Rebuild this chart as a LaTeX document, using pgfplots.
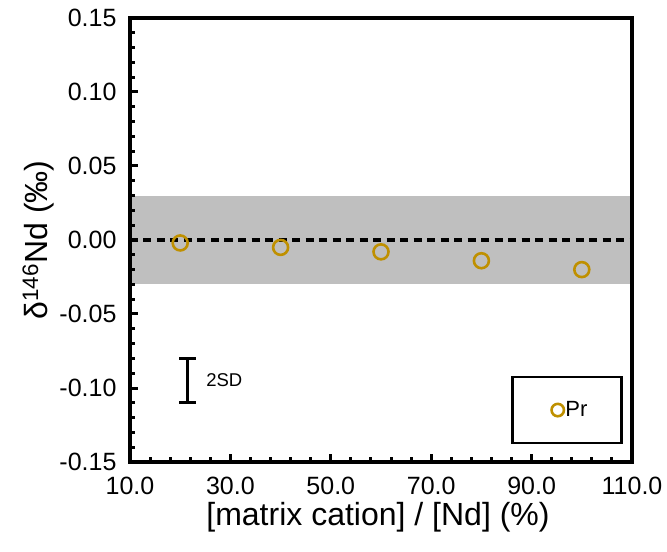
\documentclass[border=0pt]{standalone}
\usepackage{pgfplots}
\pgfplotsset{compat=1.18}
\usepackage{fontspec}
\setmainfont{Liberation Sans}

\definecolor{prgold}{RGB}{191,144,0}
\definecolor{bandgray}{RGB}{191,191,191}

\begin{document}
\begin{tikzpicture}
\begin{axis}[
  name=ax,
  scale only axis,
  width=502bp, height=444bp,
  xmin=10, xmax=110,
  ymin=-0.15, ymax=0.15,
  axis line style={line width=3.2bp},
  axis on top,
  xtick={10,30,50,70,90,110},
  ytick={-0.15,-0.10,-0.05,0,0.05,0.10,0.15},
  minor x tick num=4,
  minor y tick num=4,
  xtick pos=bottom, ytick pos=left,
  tick align=inside,
  major tick length=8bp, minor tick length=5.5bp,
  major tick style={black, line width=3bp},
  minor tick style={black, line width=3bp},
  /pgf/number format/assume math mode=true,
  xticklabel style={/pgf/number format/.cd, fixed, fixed zerofill, precision=1, /tikz/.cd,
    font=\fontsize{25bp}{30bp}\selectfont, yshift=-12bp},
  yticklabel style={/pgf/number format/.cd, fixed, fixed zerofill, precision=2, /tikz/.cd,
    font=\fontsize{25bp}{30bp}\selectfont, xshift=-10bp},
  scaled ticks=false,
  xlabel={[matrix cation] / [Nd] (\%)},
  ylabel={δ\textsuperscript{146}Nd (‰)},
  xlabel style={font=\fontsize{32bp}{38bp}\selectfont,
    at={(axis description cs:0.494,-0.142)}, anchor=base},
  ylabel style={font=\fontsize{32bp}{38bp}\selectfont,
    at={(axis description cs:-0.183,0.5)}, anchor=center},
  legend style={at={(rel axis cs:0.877,0.117)}, anchor=center,
    draw=none, fill=none,
    nodes={inner sep=1.5bp},
    font=\fontsize{22bp}{26bp}\selectfont},
  legend image code/.code={\draw[#1, mark size=6.2bp] plot coordinates {(0bp,0bp)};},
]
% reference window of the standard (+-0.03)
\addplot[draw=none, fill=bandgray, forget plot]
  coordinates {(10,-0.03) (110,-0.03) (110,0.03) (10,0.03)} -- cycle;
% zero line
\addplot[black, line width=3.2bp, dash pattern=on 8bp off 5.5bp, forget plot]
  coordinates {(10,0) (110,0)};
% typical 2SD
\addplot[black, line width=2.8bp, mark=none, forget plot,
  error bars/.cd, y dir=both, y explicit,
  error bar style={line width=2.8bp},
  error mark options={rotate=90, mark size=8.5bp, line width=2.8bp, black}]
  coordinates {(21.5,-0.095) +- (0,0.015)};
\node[anchor=west, font=\fontsize{18.5bp}{22bp}\selectfont]
  at (axis cs:24.5,-0.095) {2SD};
% legend frame
\draw[black, line width=2.4bp] (rel axis cs:0.762,0.043) rectangle (rel axis cs:0.979,0.191);
% Pr-doped runs
\addplot[only marks, mark=o, mark size=7.5bp,
  mark options={draw=prgold, line width=2.6bp}]
  coordinates {(20,-0.002) (40,-0.005) (60,-0.008) (80,-0.014) (100,-0.020)};
\addlegendentry{Pr}
\end{axis}
\pgfresetboundingbox
\path ([shift={(-130bp,-90bp)}]ax.south west) rectangle ([shift={(537bp,462bp)}]ax.south west);
\end{tikzpicture}
\end{document}
